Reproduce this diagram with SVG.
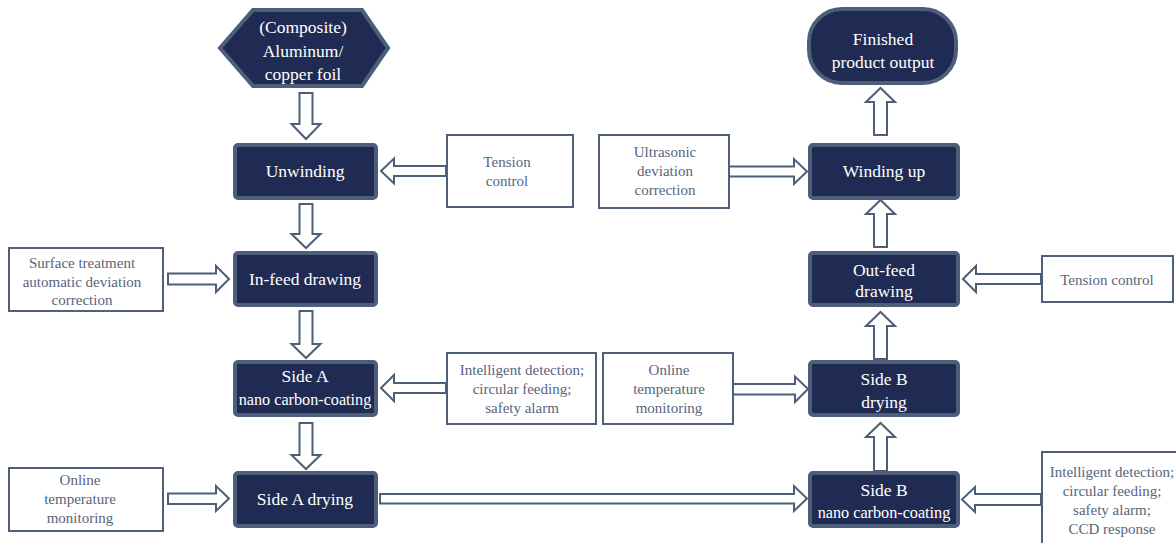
<svg xmlns="http://www.w3.org/2000/svg" width="1176" height="543" viewBox="0 0 1176 543" font-family="'Liberation Serif', 'Times New Roman', Times, 'DejaVu Serif', serif">
<style>
.node{fill:#1f2b53;stroke:#4c5e79;stroke-width:4}
.lbl{fill:#ffffff;stroke:#4f6078;stroke-width:2}
.arr{fill:#ffffff;stroke:#4c5e79;stroke-width:2;stroke-linejoin:miter}
.nt{font-size:17.5px;fill:#ffffff;text-anchor:middle}
.nn{font-size:16.2px}
.lt{font-size:15px;fill:#56657c;text-anchor:middle}
</style>
<rect width="1176" height="543" fill="#ffffff"/>
<g id="connectors">
<path class="arr" d="M299.5,93 H312.5 V124 H320.5 L306,139 L291.5,124 H299.5 Z"/>
<path class="arr" d="M299.5,204 H312.5 V234 H320.5 L306,248 L291.5,234 H299.5 Z"/>
<path class="arr" d="M299.5,311 H312.5 V344 H320.5 L306,358 L291.5,344 H299.5 Z"/>
<path class="arr" d="M299.5,423 H312.5 V455 H320.5 L306,469 L291.5,455 H299.5 Z"/>
<path class="arr" d="M874,135 H887 V102 H895 L880.5,88 L866,102 H874 Z"/>
<path class="arr" d="M874,247 H887 V214 H895 L880.5,200 L866,214 H874 Z"/>
<path class="arr" d="M874,359 H887 V326 H895 L880.5,312 L866,326 H874 Z"/>
<path class="arr" d="M874,471 H887 V437 H895 L880.5,423 L866,437 H874 Z"/>
<path class="arr" d="M446,166 V176 H394 V183.5 L381,171 L394,158.5 V166 Z"/>
<path class="arr" d="M729,166.5 V176.5 H794 V184 L807,171.5 L794,159 V166.5 Z"/>
<path class="arr" d="M168,273.5 V284.5 H216 V292 L229,279 L216,266 V273.5 Z"/>
<path class="arr" d="M1041,274 V284 H976 V292 L963,279 L976,266 V274 Z"/>
<path class="arr" d="M446,383 V393 H394 V401 L381,388 L394,375 V383 Z"/>
<path class="arr" d="M733,384 V394.5 H795 V402 L808,389 L795,376.5 V384 Z"/>
<path class="arr" d="M168,493.5 V504 H216 V511 L229,498.5 L216,486 V493.5 Z"/>
<path class="arr" d="M380,494 V503.5 H794 V511 L807,498.5 L794,486 V494 Z"/>
<path class="arr" d="M1041,494 V505 H975 V512 L962,499.5 L975,487 V494 Z"/>
</g>
<g id="n-foil">
<polygon class="node" points="220,48 253,10 362,10 388,48 362,86 253,86"/>
<text class="nt" x="303" y="33">(Composite)</text>
<text class="nt" x="303" y="57">Aluminum/</text>
<text class="nt" x="303" y="80">copper foil</text>
</g>
<g id="n-unwinding">
<rect class="node" x="235" y="145" width="141" height="53" rx="3"/>
<text class="nt" x="305" y="177">Unwinding</text>
</g>
<g id="n-infeed">
<rect class="node" x="235" y="253" width="141" height="52" rx="3"/>
<text class="nt" x="305" y="285">In-feed drawing</text>
</g>
<g id="n-sideA-coat">
<rect class="node" x="235" y="362" width="141" height="53" rx="3"/>
<text class="nt" x="305" y="382">Side A</text>
<text class="nt nn" x="305" y="405">nano carbon-coating</text>
</g>
<g id="n-sideA-dry">
<rect class="node" x="235" y="473" width="141" height="53" rx="3"/>
<text class="nt" x="305" y="505">Side A drying</text>
</g>
<g id="n-finished">
<rect class="node" x="809" y="9" width="147" height="74" rx="33"/>
<text class="nt" x="883" y="45">Finished</text>
<text class="nt" x="883" y="68">product output</text>
</g>
<g id="n-winding">
<rect class="node" x="810" y="145" width="148" height="53" rx="3"/>
<text class="nt" x="884" y="177">Winding up</text>
</g>
<g id="n-outfeed">
<rect class="node" x="810" y="253" width="148" height="52" rx="3"/>
<text class="nt" x="884" y="276">Out-feed</text>
<text class="nt" x="884" y="297">drawing</text>
</g>
<g id="n-sideB-dry">
<rect class="node" x="810" y="362" width="148" height="53" rx="3"/>
<text class="nt" x="884" y="385">Side B</text>
<text class="nt" x="884" y="408">drying</text>
</g>
<g id="n-sideB-coat">
<rect class="node" x="810" y="473" width="148" height="53" rx="3"/>
<text class="nt" x="884" y="496">Side B</text>
<text class="nt nn" x="884" y="518">nano carbon-coating</text>
</g>
<g id="l-tension1">
<rect class="lbl" x="447" y="135" width="126" height="72"/>
<text class="lt" x="507" y="167">Tension</text>
<text class="lt" x="507" y="186">control</text>
</g>
<g id="l-ultrasonic">
<rect class="lbl" x="599" y="135" width="130" height="73"/>
<text class="lt" x="665" y="157">Ultrasonic</text>
<text class="lt" x="665" y="176">deviation</text>
<text class="lt" x="665" y="195">correction</text>
</g>
<g id="l-surface">
<rect class="lbl" x="9" y="248" width="154" height="63"/>
<text class="lt" x="82" y="268">Surface treatment</text>
<text class="lt" x="82" y="287">automatic deviation</text>
<text class="lt" x="82" y="305">correction</text>
</g>
<g id="l-intel1">
<rect class="lbl" x="447" y="353" width="149" height="71"/>
<text class="lt" x="522" y="375">Intelligent detection;</text>
<text class="lt" x="522" y="394">circular feeding;</text>
<text class="lt" x="522" y="413">safety alarm</text>
</g>
<g id="l-online1">
<rect class="lbl" x="603" y="353" width="130" height="71"/>
<text class="lt" x="669" y="375">Online</text>
<text class="lt" x="669" y="394">temperature</text>
<text class="lt" x="669" y="413">monitoring</text>
</g>
<g id="l-online2">
<rect class="lbl" x="9" y="468" width="154" height="63"/>
<text class="lt" x="80" y="485">Online</text>
<text class="lt" x="80" y="504">temperature</text>
<text class="lt" x="80" y="523">monitoring</text>
</g>
<g id="l-tension2">
<rect class="lbl" x="1042" y="256" width="131" height="46"/>
<text class="lt" x="1107" y="285">Tension control</text>
</g>
<g id="l-intel2">
<rect class="lbl" x="1042" y="452" width="150" height="100"/>
<text class="lt" x="1112" y="477">Intelligent detection;</text>
<text class="lt" x="1112" y="496">circular feeding;</text>
<text class="lt" x="1112" y="515">safety alarm;</text>
<text class="lt" x="1112" y="534">CCD response</text>
</g>
</svg>
